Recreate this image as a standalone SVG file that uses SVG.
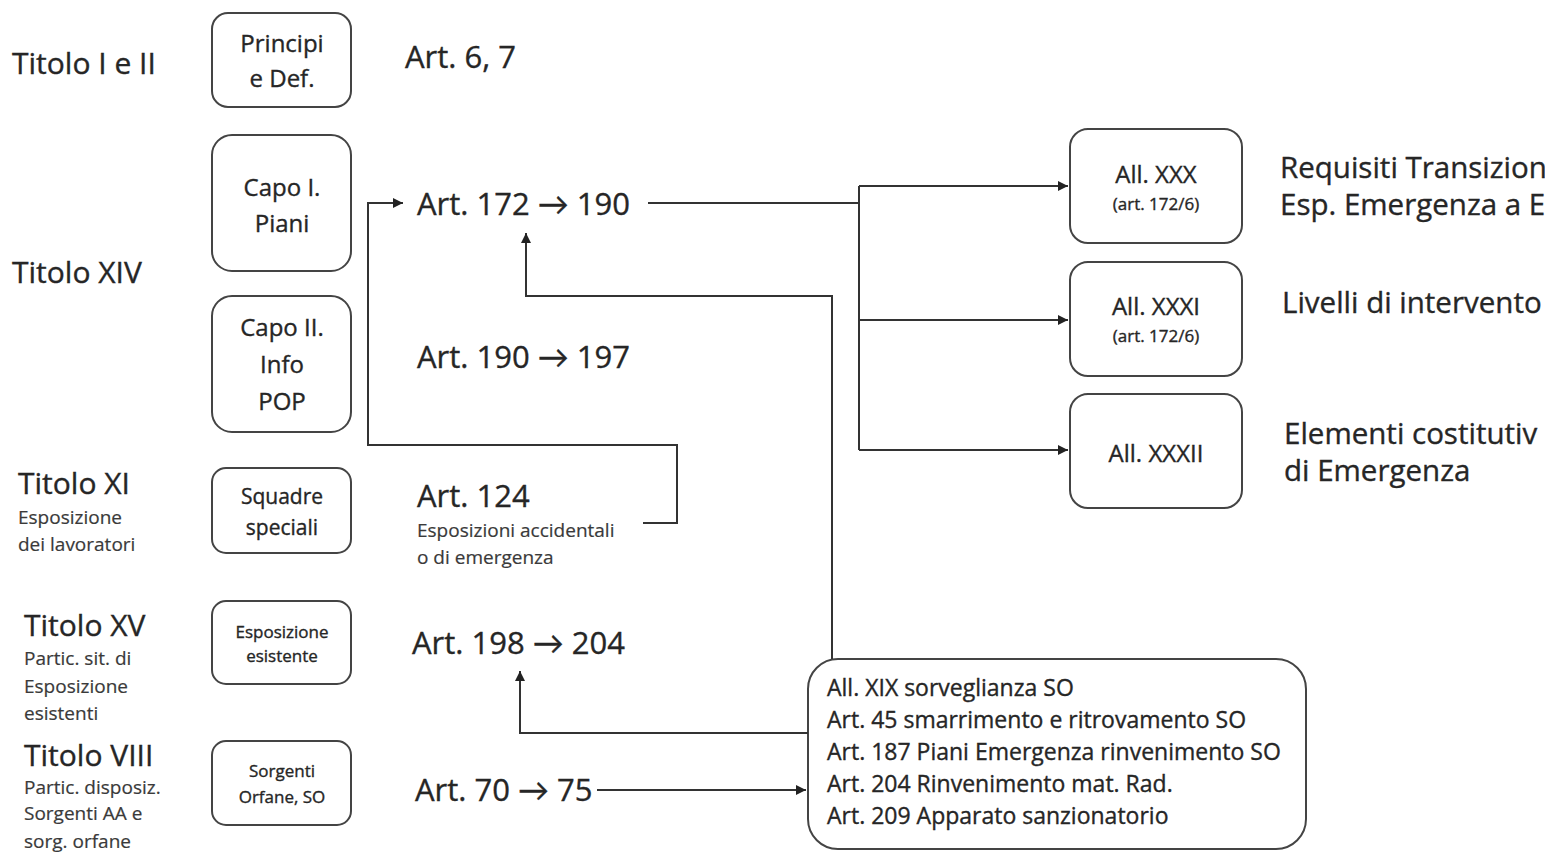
<svg xmlns="http://www.w3.org/2000/svg" width="1545" height="857" viewBox="0 0 1545 857">
<defs>
<style>
text{font-family:"Open Sans",Lato,"Liberation Sans",sans-serif;fill:#262626;stroke:#262626;stroke-width:0.35}
.t{font-size:30px}
.b{font-size:24px;text-anchor:middle}
.bs{font-size:21px;text-anchor:middle}
.bx{font-size:17px;text-anchor:middle}
.s{font-size:19px;fill:#3a3a3a;stroke:#3a3a3a;stroke-width:0.2}
.a{font-size:31px}
.r{font-size:29.5px}
.l{font-size:23px}
.box{fill:#fff;stroke:#444;stroke-width:2}
.c{fill:none;stroke:#333;stroke-width:2}
</style>
<marker id="ah" viewBox="0 0 10 10" refX="10" refY="5" markerWidth="5" markerHeight="5" orient="auto-start-reverse"><path d="M0,0 L10,5 L0,10 z" fill="#222"/></marker>
</defs>
<rect width="1545" height="857" fill="#fff"/>

<g id="left-labels">
<text class="t" x="12" y="74">Titolo I e II</text>
<text class="t" x="12" y="283">Titolo XIV</text>
<text class="t" x="18" y="494">Titolo XI</text>
<text class="s" x="18" y="524">Esposizione</text>
<text class="s" x="18" y="551">dei lavoratori</text>
<text class="t" x="24" y="636">Titolo XV</text>
<text class="s" x="24" y="665">Partic. sit. di</text>
<text class="s" x="24" y="693">Esposizione</text>
<text class="s" x="24" y="720">esistenti</text>
<text class="t" x="24" y="766">Titolo VIII</text>
<text class="s" x="24" y="794">Partic. disposiz.</text>
<text class="s" x="24" y="820">Sorgenti AA e</text>
<text class="s" x="24" y="848">sorg. orfane</text>
</g>

<g id="n-principi"><rect class="box" x="212" y="13" width="139" height="94" rx="16"/><text class="b" x="282" y="52">Principi</text><text class="b" x="282" y="87">e Def.</text></g>
<g id="n-capo1"><rect class="box" x="212" y="135" width="139" height="136" rx="20"/><text class="b" x="282" y="196">Capo I.</text><text class="b" x="282" y="232">Piani</text></g>
<g id="n-capo2"><rect class="box" x="212" y="296" width="139" height="136" rx="20"/><text class="b" x="282" y="336">Capo II.</text><text class="b" x="282" y="373">Info</text><text class="b" x="282" y="410">POP</text></g>
<g id="n-squadre"><rect class="box" x="212" y="468" width="139" height="85" rx="14"/><text class="bs" x="282" y="504">Squadre</text><text class="bs" x="282" y="535">speciali</text></g>
<g id="n-esposizione"><rect class="box" x="212" y="601" width="139" height="83" rx="14"/><text class="bx" x="282" y="638">Esposizione</text><text class="bx" x="282" y="662">esistente</text></g>
<g id="n-sorgenti"><rect class="box" x="212" y="741" width="139" height="84" rx="14"/><text class="bx" x="282" y="777">Sorgenti</text><text class="bx" x="282" y="803">Orfane, SO</text></g>

<g id="articles">
<text class="a" x="405" y="68">Art. 6, 7</text>
<text class="a" x="417" y="215">Art. 172 → 190</text>
<text class="a" x="417" y="368">Art. 190 → 197</text>
<text class="a" x="417" y="507">Art. 124</text>
<text class="s" x="417" y="537">Esposizioni accidentali</text>
<text class="s" x="417" y="564">o di emergenza</text>
<text class="a" x="412" y="654">Art. 198 → 204</text>
<text class="a" x="415" y="801">Art. 70 → 75</text>
</g>

<g id="n-all30"><rect class="box" x="1070" y="129" width="172" height="114" rx="18"/><text class="b" x="1156" y="183">All. XXX</text><text class="bx" x="1156" y="210">(art. 172/6)</text></g>
<g id="n-all31"><rect class="box" x="1070" y="262" width="172" height="114" rx="18"/><text class="b" x="1156" y="315">All. XXXI</text><text class="bx" x="1156" y="342">(art. 172/6)</text></g>
<g id="n-all32"><rect class="box" x="1070" y="394" width="172" height="114" rx="18"/><text class="b" x="1156" y="462">All. XXXII</text></g>

<g id="right-labels">
<text class="r" x="1280" y="178">Requisiti Transizion</text>
<text class="r" x="1280" y="215">Esp. Emergenza a E</text>
<text class="r" x="1282" y="313">Livelli di intervento</text>
<text class="r" x="1284" y="444">Elementi costitutiv</text>
<text class="r" x="1284" y="481">di Emergenza</text>
</g>

<g id="n-so"><rect class="box" x="808" y="659" width="498" height="190" rx="30"/>
<text class="l" x="827" y="696">All. XIX sorveglianza SO</text>
<text class="l" x="827" y="728">Art. 45 smarrimento e ritrovamento SO</text>
<text class="l" x="827" y="760">Art. 187 Piani Emergenza rinvenimento SO</text>
<text class="l" x="827" y="792">Art. 204 Rinvenimento mat. Rad.</text>
<text class="l" x="827" y="824">Art. 209 Apparato sanzionatorio</text>
</g>

<g id="connectors">
<path class="c" d="M648,203 H859"/>
<path class="c" d="M859,186 V450"/>
<path class="c" d="M859,186 H1068" marker-end="url(#ah)"/>
<path class="c" d="M859,320 H1068" marker-end="url(#ah)"/>
<path class="c" d="M859,450 H1068" marker-end="url(#ah)"/>
<path class="c" d="M832,659 V296 H526 V233" marker-end="url(#ah)"/>
<path class="c" d="M643,523 H677 V445 H368 V203 H403" marker-end="url(#ah)"/>
<path class="c" d="M808,733 H520 V671" marker-end="url(#ah)"/>
<path class="c" d="M597,790 H806" marker-end="url(#ah)"/>
</g>
</svg>
